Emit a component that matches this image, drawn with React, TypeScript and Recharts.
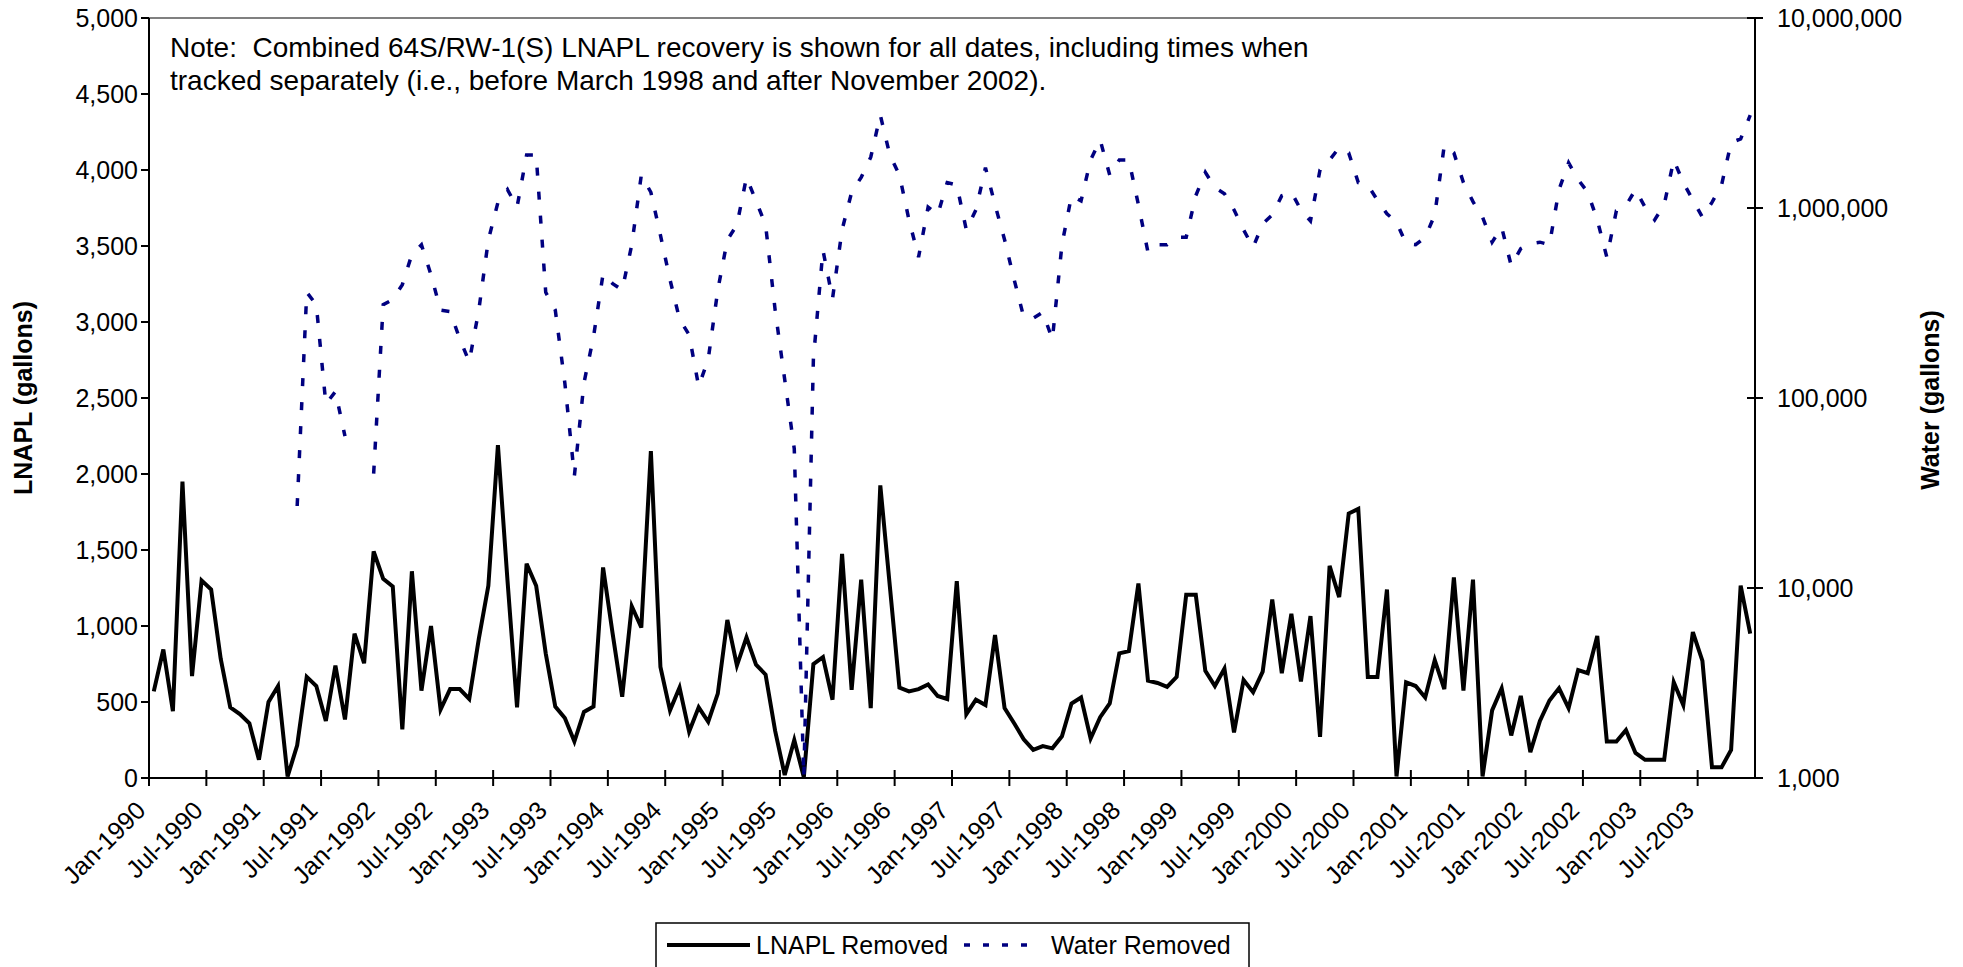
import React from 'react';
import { LineChart, Line, XAxis, YAxis, ReferenceLine } from 'recharts';

const FONT = '"Liberation Sans", Arial, Helvetica, sans-serif';

// one x tick every 6 months, first month of the series is Jan-1990
const tickLabels = [
  'Jan-1990', 'Jul-1990', 'Jan-1991', 'Jul-1991', 'Jan-1992', 'Jul-1992', 'Jan-1993',
  'Jul-1993', 'Jan-1994', 'Jul-1994', 'Jan-1995', 'Jul-1995', 'Jan-1996', 'Jul-1996',
  'Jan-1997', 'Jul-1997', 'Jan-1998', 'Jul-1998', 'Jan-1999', 'Jul-1999', 'Jan-2000',
  'Jul-2000', 'Jan-2001', 'Jul-2001', 'Jan-2002', 'Jul-2002', 'Jan-2003', 'Jul-2003',
];

// monthly LNAPL removed (gallons), Jan-1990 .. Dec-2003, one row per year
const lnaplRemoved = [
  570, 845, 440, 1950, 670, 1300, 1240, 785, 465, 420, 360, 120,
  500, 605, 10, 215, 665, 605, 375, 740, 385, 950, 755, 1490,
  1310, 1260, 320, 1360, 575, 1000, 450, 585, 585, 520, 915, 1265,
  2190, 1300, 465, 1410, 1265, 820, 470, 395, 240, 435, 470, 1385,
  950, 535, 1130, 990, 2150, 730, 445, 595, 305, 465, 370, 555,
  1040, 740, 925, 745, 680, 310, 20, 250, 5, 750, 795, 515,
  1475, 580, 1305, 460, 1925, 1260, 595, 570, 585, 615, 540, 520,
  1295, 420, 515, 480, 940, 460, 360, 255, 185, 210, 195, 275,
  490, 530, 260, 400, 490, 820, 835, 1280, 640, 625, 600, 665,
  1205, 1205, 705, 605, 720, 300, 645, 565, 700, 1175, 690, 1080,
  635, 1065, 270, 1395, 1190, 1740, 1770, 665, 665, 1240, 10, 630,
  605, 530, 775, 585, 1320, 575, 1305, 10, 445, 590, 280, 540,
  170, 375, 510, 590, 460, 710, 690, 935, 240, 240, 315, 165,
  120, 120, 120, 630, 480, 960, 770, 70, 70, 185, 1265, 950,
];

// monthly water removed (gallons), same months, null = not recorded
const waterRemoved = [
  null, null, null, null, null, null, null, null, null, null, null, null,
  null, null, null, 27000, 360000, 310000, 93000, 108000, 63000, null, null, 40000,
  310000, 330000, 395000, 570000, 640000, 445000, 290000, 285000, 205000, 155000, 290000, 680000,
  1070000, 1250000, 1010000, 1900000, 1900000, 360000, 290000, 120000, 39000, 120000, 210000, 450000,
  400000, 370000, 640000, 1490000, 1210000, 720000, 420000, 260000, 215000, 115000, 160000, 370000,
  680000, 815000, 1450000, 1090000, 815000, 290000, 125000, 54000, 1000, 160000, 600000, 333000,
  767000, 1210000, 1450000, 1850000, 3080000, 1900000, 1490000, 866000, 551000, 1010000, 920000, 1360000,
  1320000, 767000, 978000, 1630000, 1040000, 681000, 420000, 267000, 263000, 283000, 203000, 641000,
  1160000, 1090000, 1790000, 2280000, 1490000, 1790000, 1790000, 1040000, 585000, 641000, 641000, 702000,
  702000, 1160000, 1540000, 1280000, 1190000, 978000, 767000, 621000, 826000, 920000, 1160000, 1210000,
  978000, 855000, 1590000, 1790000, 2080000, 1950000, 1360000, 1320000, 1100000, 932000, 842000, 649000,
  641000, 702000, 920000, 2140000, 1950000, 1360000, 1080000, 894000, 661000, 791000, 497000, 611000,
  649000, 661000, 641000, 1250000, 1730000, 1410000, 1210000, 866000, 551000, 967000, 1030000, 1250000,
  1010000, 866000, 1040000, 1790000, 1360000, 1100000, 894000, 1070000, 1320000, 2210000, 2310000, 3080000,
];

const lnaplTicks = [0, 500, 1000, 1500, 2000, 2500, 3000, 3500, 4000, 4500, 5000];
const waterTicks = [1000, 10000, 100000, 1000000, 10000000];

const noteLines = [
  'Note:  Combined 64S/RW-1(S) LNAPL recovery is shown for all dates, including times when',
  'tracked separately (i.e., before March 1998 and after November 2002).',
];

// points sit in the middle of each monthly category
const chartData = lnaplRemoved.map((v, i) => ({
  x: i + 0.5,
  lnapl: v,
  water: waterRemoved[i],
}));

const monthTicks = tickLabels.map((_, i) => i * 6);

const fmt = (v: number) => v.toLocaleString('en-US');

const XTick = (props: any) => {
  const { x, y, payload } = props;
  const axisY = y - 8;
  const label = tickLabels[Math.round(payload.value / 6)];
  const tx = x - 2;
  const ty = axisY + 34;
  return (
    <g>
      <line x1={x} x2={x} y1={axisY - 8} y2={axisY + 8} stroke="#000" strokeWidth={2} />
      <text
        x={tx}
        y={ty}
        transform={`rotate(-45 ${tx} ${ty})`}
        textAnchor="end"
        fontSize={25}
        fontFamily={FONT}
        fill="#000"
      >
        {label}
      </text>
    </g>
  );
};

const LeftTick = (props: any) => {
  const { x, y, payload } = props;
  return (
    <text x={x} y={y} dy="0.35em" textAnchor="end" fontSize={25} fontFamily={FONT} fill="#000">
      {fmt(payload.value)}
    </text>
  );
};

const RightTick = (props: any) => {
  const { x, y, payload } = props;
  return (
    <g>
      <line x1={x - 30} x2={x - 14} y1={y} y2={y} stroke="#000" strokeWidth={2} />
      <text x={x} y={y} dy="0.35em" textAnchor="start" fontSize={25} fontFamily={FONT} fill="#000">
        {fmt(payload.value)}
      </text>
    </g>
  );
};

const App = () => {
  return (
    <div style={{ position: 'absolute', left: 0, top: 0, width: 1963, height: 967, background: '#fff' }}>
      <LineChart
        width={1963}
        height={967}
        data={chartData}
        margin={{ top: 18, right: 0, bottom: 0, left: 0 }}
      >
        <XAxis
          dataKey="x"
          type="number"
          domain={[0, 168]}
          ticks={monthTicks}
          interval={0}
          height={189}
          tickSize={8}
          tickMargin={0}
          tickLine={false}
          axisLine={{ stroke: '#000', strokeWidth: 2 }}
          tick={<XTick />}
          allowDataOverflow
        />
        <YAxis
          yAxisId="left"
          orientation="left"
          width={149}
          domain={[0, 5000]}
          ticks={lnaplTicks}
          interval={0}
          tickSize={8}
          tickMargin={3}
          tickLine={{ stroke: '#000', strokeWidth: 2 }}
          axisLine={{ stroke: '#000', strokeWidth: 2 }}
          tick={<LeftTick />}
          allowDataOverflow
        />
        <YAxis
          yAxisId="right"
          orientation="right"
          width={208}
          scale="log"
          domain={[1000, 10000000]}
          ticks={waterTicks}
          interval={0}
          tickSize={8}
          tickMargin={14}
          tickLine={false}
          axisLine={{ stroke: '#000', strokeWidth: 2 }}
          tick={<RightTick />}
          allowDataOverflow
        />
        <ReferenceLine yAxisId="left" y={5000} stroke="#808080" strokeWidth={2} />
        <Line
          yAxisId="left"
          type="linear"
          dataKey="lnapl"
          stroke="#000"
          strokeWidth={4}
          dot={false}
          activeDot={false}
          isAnimationActive={false}
        />
        <Line
          yAxisId="right"
          type="linear"
          dataKey="water"
          stroke="#000080"
          strokeWidth={3.5}
          strokeDasharray="8 16"
          dot={false}
          activeDot={false}
          connectNulls={false}
          isAnimationActive={false}
        />
      </LineChart>

      <svg
        width={1963}
        height={967}
        style={{ position: 'absolute', left: 0, top: 0, pointerEvents: 'none' }}
      >
        {noteLines.map((line, i) => (
          <text
            key={i}
            x={170}
            y={57 + i * 33}
            fontSize={28}
            fontFamily={FONT}
            fill="#000"
            xmlSpace="preserve"
            style={{ whiteSpace: 'pre' }}
          >
            {line}
          </text>
        ))}
        <text
          x={23}
          y={398}
          dy="0.35em"
          transform="rotate(-90 23 398)"
          textAnchor="middle"
          fontSize={25}
          fontWeight="bold"
          fontFamily={FONT}
          fill="#000"
        >
          LNAPL (gallons)
        </text>
        <text
          x={1930}
          y={400}
          dy="0.35em"
          transform="rotate(-90 1930 400)"
          textAnchor="middle"
          fontSize={25}
          fontWeight="bold"
          fontFamily={FONT}
          fill="#000"
        >
          Water (gallons)
        </text>

        {/* legend */}
        <rect x={656} y={923} width={593} height={60} fill="#fff" stroke="#000" strokeWidth={1.5} />
        <line x1={667} x2={750} y1={945} y2={945} stroke="#000" strokeWidth={4} />
        <text x={756} y={954} fontSize={25} fontFamily={FONT} fill="#000">LNAPL Removed</text>
        <line x1={964} x2={1028} y1={945} y2={945} stroke="#000080" strokeWidth={3.5} strokeDasharray="6 13" />
        <text x={1051} y={954} fontSize={25} fontFamily={FONT} fill="#000">Water Removed</text>
      </svg>
    </div>
  );
};

export default App;
